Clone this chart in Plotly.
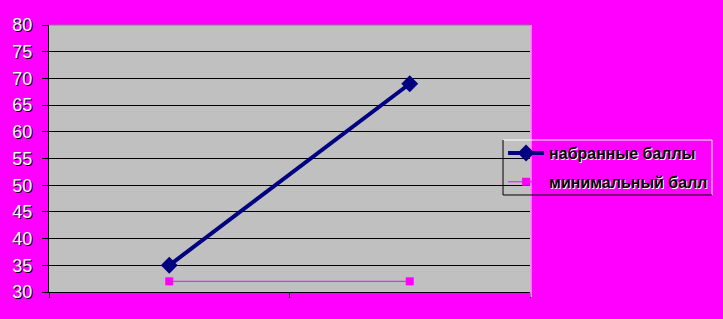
import plotly.graph_objects as go

categories = ["1", "2"]
scored = [35, 69]
minimum = [32, 32]
series_names = ["набранные баллы", "минимальный балл"]
y_ticks = [30, 35, 40, 45, 50, 55, 60, 65, 70, 75, 80]

xpos = list(range(len(categories)))

fig = go.Figure()
fig.add_trace(go.Scatter(
    x=xpos, y=scored, name=series_names[0], mode="lines+markers",
    line=dict(color="#000080", width=4),
    marker=dict(symbol="diamond", size=13, color="#000080"),
    legendgroup="a",
))
fig.add_trace(go.Scatter(
    x=xpos, y=minimum, name=series_names[1], mode="lines+markers",
    line=dict(color="#FF00FF", width=1),
    marker=dict(symbol="square", size=8, color="#FF00FF"),
    legendgroup="b",
))

fig.update_layout(
    width=723, height=319,
    margin=dict(l=49, r=193, t=25, b=27, autoexpand=False),
    paper_bgcolor="#FF00FF",
    plot_bgcolor="#C0C0C0",
    showlegend=True,
    legend=dict(
        x=0.944, xanchor="left", y=0.584, yanchor="top",
        bgcolor="rgba(0,0,0,0)", borderwidth=0,
        font=dict(family="Liberation Sans", size=16, color="black",
                  weight="bold", shadow="1px 1px 0px white"),
        tracegroupgap=5, itemwidth=36,
    ),
    xaxis=dict(
        range=[-0.5, len(categories) - 0.5],
        tickvals=[-0.5, 0.5, 1.5], ticktext=["", "", ""],
        ticks="outside", ticklen=5, tickcolor="black",
        showgrid=False, zeroline=False,
        showline=True, linecolor="black", linewidth=1,
    ),
    yaxis=dict(
        range=[30, 80], tickvals=y_ticks,
        ticks="outside", ticklen=6, tickcolor="black",
        showgrid=True, gridcolor="black", gridwidth=1,
        zeroline=False, showline=True, linecolor="black", linewidth=1,
        tickfont=dict(family="Liberation Sans", size=18, color="white", shadow="1px 1px 0px black"),
        ticklabelstandoff=6,
    ),
)
# plot area edges
fig.add_shape(type="line", xref="paper", yref="paper", x0=1.002, x1=1.002, y0=-0.02, y1=1,
              line=dict(color="white", width=1))
fig.add_shape(type="line", xref="paper", yref="paper", x0=0, x1=1, y0=1, y1=1,
              line=dict(color="#808080", width=1))
# legend frame (3D look: black left/bottom, white top/right)
lx0, lx1, ly0, ly1 = 0.9439, 1.3784, 0.3633, 0.5693
fig.add_shape(type="line", xref="paper", yref="paper", x0=lx0, x1=lx1, y0=ly1, y1=ly1,
              line=dict(color="white", width=1))
fig.add_shape(type="line", xref="paper", yref="paper", x0=lx1, x1=lx1, y0=ly0, y1=ly1,
              line=dict(color="white", width=1))
fig.add_shape(type="line", xref="paper", yref="paper", x0=lx0, x1=lx0, y0=ly0, y1=ly1,
              line=dict(color="black", width=1))
fig.add_shape(type="line", xref="paper", yref="paper", x0=lx0, x1=lx1, y0=ly0, y1=ly0,
              line=dict(color="black", width=1))

fig.write_html("out.html")
